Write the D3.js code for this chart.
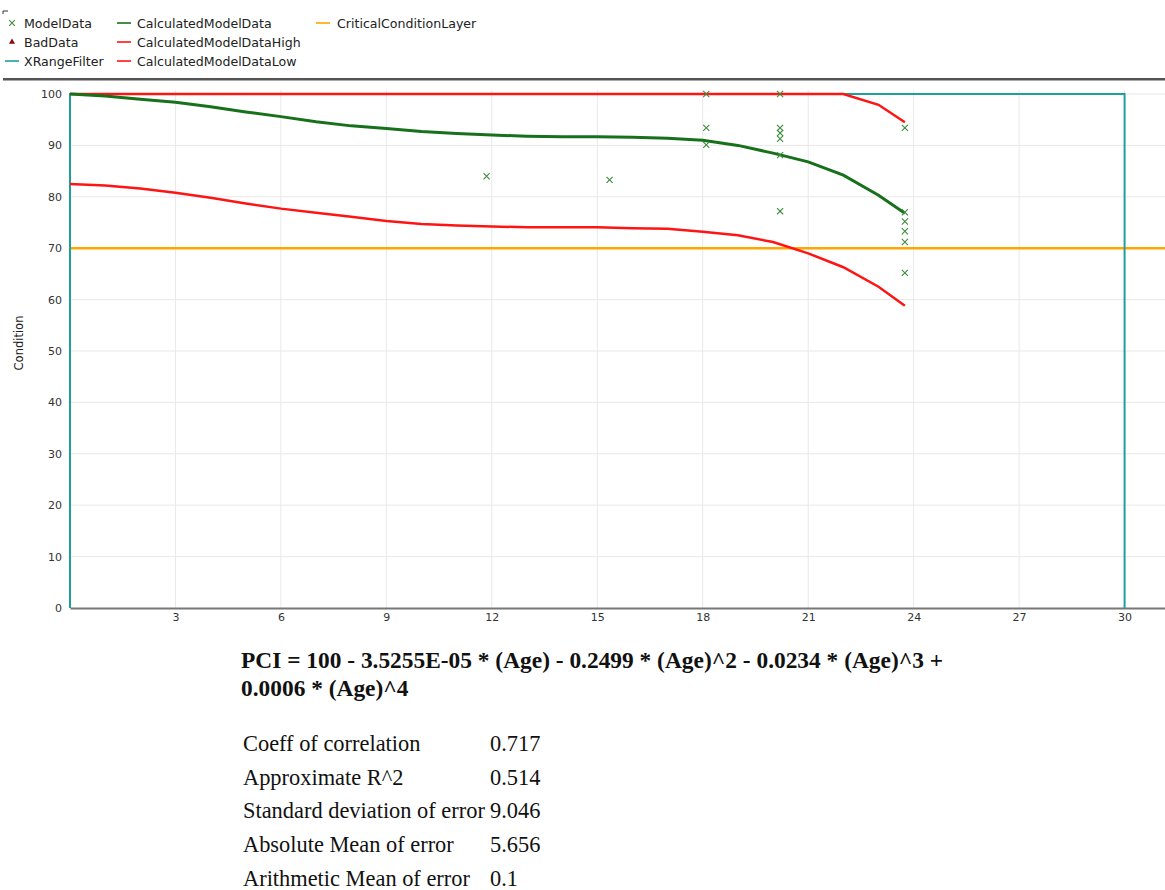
<!DOCTYPE html>
<html>
<head>
<meta charset="utf-8">
<script src="https://cdn.jsdelivr.net/npm/d3@7/dist/d3.min.js"></script>
<style>
  html, body { margin: 0; padding: 0; background: #fff; }
  svg { display: block; }
</style>
</head>
<body>
<svg id="chart" width="1165" height="890"></svg>
<script>
// ---- data ----
const curveAges = [0,1,2,3,4,5,6,7,8,9,10,11,12,13,14,15,16,17,18,19,20,21,22,23,23.75];
const calculated = [100,99.6,99.0,98.4,97.5,96.5,95.6,94.6,93.8,93.3,92.7,92.3,92.0,91.8,91.7,91.7,91.6,91.4,91.0,90.0,88.5,86.8,84.2,80.3,76.8];
const calculatedHigh = [100,100,100,100,100,100,100,100,100,100,100,100,100,100,100,100,100,100,100,100,100,100,100,97.9,94.5];
const calculatedLow = [82.5,82.2,81.6,80.8,79.8,78.7,77.7,76.9,76.1,75.3,74.7,74.4,74.2,74.1,74.1,74.1,73.9,73.8,73.2,72.5,71.2,69.0,66.3,62.5,58.8];

const modelAges = [11.85,15.35,18.1,18.1,18.1,20.2,20.2,20.2,20.2,20.2,20.2,23.75,23.75,23.75,23.75,23.75,23.75];
const modelPCI  = [84,83.3,100,93.4,90.1,100,93.4,92.4,91.3,88.1,77.2,93.4,77,75.2,73.3,71.2,65.2];

const filterAges = [0,0,30,30];
const filterPCI  = [0,100,100,0];

const criticalLevel = 70;

const xTicks = [3,6,9,12,15,18,21,24,27,30];
const yTicks = [0,10,20,30,40,50,60,70,80,90,100];

const legendItems = [
  ["ModelData","cross"],["BadData","triangle"],["XRangeFilter","teal"],
  ["CalculatedModelData","green"],["CalculatedModelDataHigh","red"],["CalculatedModelDataLow","red"],
  ["CriticalConditionLayer","orange"]
];

const formulaLines = [
  "PCI = 100 - 3.5255E-05 * (Age) - 0.2499 * (Age)^2 - 0.0234 * (Age)^3 +",
  "0.0006 * (Age)^4"
];
const statNames  = ["Coeff of correlation","Approximate R^2","Standard deviation of error","Absolute Mean of error","Arithmetic Mean of error"];
const statValues = ["0.717","0.514","9.046","5.656","0.1"];

// ---- layout ----
const colors = {
  teal: "#1f9e9e", green: "#17701a", red: "#ff1414", orange: "#ffa600",
  cross: "#3c8c3c", triangle: "#8b0a0a"
};
const svg = d3.select("#chart");
const plotLeft = 70, plotRight = 1165, plotTop = 94, plotBottom = 608;
const x = d3.scaleLinear().domain([0, 31.15]).range([plotLeft, plotRight]);
const y = d3.scaleLinear().domain([0, 100]).range([plotBottom, plotTop]);
const uiFont = "DejaVu Sans, Verdana, sans-serif";

// legend
const legendPos = [[0,0],[0,1],[0,2],[1,0],[1,1],[1,2],[2,0]];
const colX = [[12,24],[124,137],[323,337]];
const rowY = [23,42,61];
const lg = svg.append("g");
legendItems.forEach((d, i) => {
  const [c, r] = legendPos[i];
  const [sx, tx] = colX[c];
  const cy = rowY[r];
  if (d[1] === "cross") {
    lg.append("path").attr("d", d3.symbol(d3.symbolTimes, 22)())
      .attr("transform", `translate(${sx},${cy})`)
      .attr("fill", "none").attr("stroke", colors.cross).attr("stroke-width", 1.1);
  } else if (d[1] === "triangle") {
    lg.append("path").attr("d", d3.symbol(d3.symbolTriangle, 16)())
      .attr("transform", `translate(${sx},${cy})`).attr("fill", colors.triangle);
  } else {
    lg.append("line").attr("x1", sx - 7).attr("x2", sx + 7).attr("y1", cy).attr("y2", cy)
      .attr("stroke", colors[d[1]]).attr("stroke-width", 1.6);
  }
  lg.append("text").attr("x", tx).attr("y", cy).attr("dy", "0.36em")
    .attr("font-family", uiFont).attr("font-size", 12.6).attr("fill", "#222").text(d[0]);
});
// small corner mark and separator bar
svg.append("path").attr("d", "M3,14V11H8").attr("fill", "none").attr("stroke", "#333").attr("stroke-width", 1);
svg.append("rect").attr("x", 3).attr("y", 78).attr("width", 1162).attr("height", 2.5).attr("fill", "#555");

// grid
const grid = svg.append("g");
grid.selectAll(".gx").data(xTicks).join("line")
  .attr("x1", d => x(d)).attr("x2", d => x(d)).attr("y1", plotTop - 4).attr("y2", plotBottom)
  .attr("stroke", "#e8e8e8").attr("stroke-width", 1);
grid.selectAll(".gy").data(yTicks.filter(d => d > 0)).join("line")
  .attr("x1", plotLeft).attr("x2", plotRight).attr("y1", d => y(d)).attr("y2", d => y(d))
  .attr("stroke", "#e8e8e8").attr("stroke-width", 1);

// axes
const xAxis = svg.append("g").attr("transform", `translate(0,${plotBottom})`)
  .call(d3.axisBottom(x).tickValues(xTicks).tickSize(0).tickPadding(5));
xAxis.select(".domain").attr("stroke", "#777").attr("stroke-width", 2);
xAxis.selectAll("text").attr("font-family", uiFont).attr("font-size", 11).attr("fill", "#333");

const yAxis = svg.append("g").attr("transform", `translate(${plotLeft},0)`)
  .call(d3.axisLeft(y).tickValues(yTicks).tickSize(0).tickPadding(8));
yAxis.select(".domain").remove();
yAxis.selectAll("text").attr("font-family", uiFont).attr("font-size", 11).attr("fill", "#333");

svg.append("text").attr("transform", `translate(23,343) rotate(-90)`)
  .attr("text-anchor", "middle").attr("font-family", uiFont).attr("font-size", 11.5).attr("fill", "#222")
  .text("Condition");

// series
const plot = svg.append("g");
const line = (xs, ys) => d3.line().x((d, i) => x(xs[i])).y((d, i) => y(ys[i]))(ys);

plot.append("line").attr("x1", x(0)).attr("x2", plotRight).attr("y1", y(criticalLevel)).attr("y2", y(criticalLevel))
  .attr("stroke", colors.orange).attr("stroke-width", 2.5);
plot.append("path").attr("d", line(filterAges, filterPCI))
  .attr("fill", "none").attr("stroke", colors.teal).attr("stroke-width", 2);
plot.append("path").attr("d", line(curveAges, calculatedLow))
  .attr("fill", "none").attr("stroke", colors.red).attr("stroke-width", 2.5);
plot.append("path").attr("d", line(curveAges, calculatedHigh))
  .attr("fill", "none").attr("stroke", colors.red).attr("stroke-width", 2.5);
plot.append("path").attr("d", line(curveAges, calculated))
  .attr("fill", "none").attr("stroke", colors.green).attr("stroke-width", 3);

plot.selectAll(".pt").data(modelPCI).join("path")
  .attr("d", d3.symbol(d3.symbolTimes, 26)())
  .attr("transform", (d, i) => `translate(${x(modelAges[i])},${y(d)})`)
  .attr("fill", "none").attr("stroke", colors.cross).attr("stroke-width", 1.1);

// formula and statistics
const serif = "Liberation Serif, Times New Roman, serif";
svg.append("g").selectAll("text").data(formulaLines).join("text")
  .attr("x", 241).attr("y", (d, i) => 668 + i * 28)
  .attr("font-family", serif).attr("font-weight", "bold").attr("font-size", 23.4).attr("fill", "#111")
  .text(d => d);

const stats = svg.append("g");
statNames.forEach((n, i) => {
  const yy = 751 + i * 33.7;
  stats.append("text").attr("x", 243).attr("y", yy).attr("font-family", serif).attr("font-size", 22.4)
    .attr("fill", "#111").text(n);
  stats.append("text").attr("x", 490).attr("y", yy).attr("font-family", serif).attr("font-size", 22.4)
    .attr("fill", "#111").text(statValues[i]);
});
</script>
</body>
</html>
